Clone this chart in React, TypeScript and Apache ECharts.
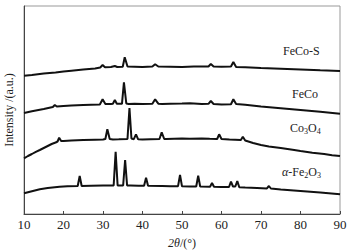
import React, { useEffect, useRef } from "react";
import * as echarts from "echarts";

const xTicks = [10, 20, 30, 40, 50, 60, 70, 80, 90];
const seriesNames = ["FeCo-S", "FeCo", "Co3O4", "α-Fe2O3"];

const fecoS: [number, number][] = [
  [10, 138.3], [12, 139], [15, 140.5], [18, 141.5], [20, 142.5], [22, 143.3], [25, 144.5], [28, 145.5],
  [29.3, 146.5], [29.9, 149], [30.5, 146.7], [32, 147], [33, 148], [33.6, 147], [35, 147.2],
  [35.5, 156.7], [36.2, 147.5], [38, 147.3], [40, 147], [42.5, 147.5], [43.2, 149.7], [44, 147.5],
  [47, 147.3], [50, 147], [53, 147.5], [56.7, 147.5], [57.3, 150], [58, 147.5], [60, 147.3],
  [62.4, 147.5], [63, 152], [63.7, 147], [66, 146.7], [70, 146], [75, 145.3], [80, 144.5], [85, 143.7], [90, 143]
];

const feco: [number, number][] = [
  [10, 101], [12, 102.8], [15, 105], [17.3, 107], [17.8, 109], [18.3, 107.5], [20, 108], [22, 108.5],
  [25, 109], [27, 109.3], [29.2, 109.5], [29.9, 114.7], [30.6, 110], [32, 110], [32.5, 110.3], [33, 114],
  [33.5, 110.3], [34.8, 110.2], [35.3, 131.7], [35.9, 110.5], [36.5, 110], [38, 110.2], [40, 110],
  [42.5, 110.2], [43.2, 114.7], [44, 110.3], [45, 110], [47, 110.3], [50, 110.5], [52, 110.7], [55, 110],
  [56.7, 110.2], [57.3, 113], [58, 110], [60, 109.5], [62.4, 109.7], [63, 114.7], [63.7, 110], [66, 109.3],
  [70, 107.5], [75, 105.8], [80, 104], [85, 102.2], [90, 100.3]
];

const co3o4: [number, number][] = [
  [10, 55.7], [11, 58], [12, 60], [13, 62.2], [14, 64], [15, 66], [16, 68], [17, 70], [18, 71.5],
  [18.5, 72.5], [18.9, 76.3], [19.4, 73], [20, 73], [22, 73.5], [25, 74], [28, 74.3], [30, 74.5],
  [30.6, 75], [31.1, 84.7], [31.7, 75], [32.5, 74.5], [34, 74.7], [36.2, 75], [36.7, 106], [37.2, 75.5],
  [37.8, 74.8], [38.35, 79.7], [38.9, 74.7], [40, 74.5], [42, 74.8], [44.3, 75], [44.86, 81.7], [45.5, 75],
  [46, 75], [48, 75.3], [50, 75.5], [52, 75.2], [55, 75.5], [57, 75.2], [58.9, 75], [59.4, 79.7],
  [60, 75], [62, 74.5], [64.9, 74], [65.4, 77.3], [66, 73.5], [68, 71], [70, 69], [72, 67.5], [75, 66],
  [78, 64.2], [80, 63], [83, 61.3], [86, 60], [88, 58.8], [90, 58]
];

const fe2o3: [number, number][] = [
  [10, 20.7], [12, 22.8], [14, 24.7], [16, 26], [19, 27.3], [21, 27.8], [23.6, 28], [24.1, 38], [24.6, 28],
  [27, 28.3], [30, 28.5], [32.7, 28.5], [33.2, 62.3], [33.7, 28.5], [34.5, 28.5], [35.1, 28.5], [35.6, 54],
  [36.1, 28.5], [37, 28.5], [39, 28.3], [40.4, 28.3], [40.9, 36.3], [41.4, 28.2], [45, 28], [47, 27.8],
  [49, 27.8], [49.5, 39], [50, 27.7], [52, 27.5], [53.6, 27.5], [54.1, 38.3], [54.6, 27.5], [57.1, 27.3],
  [57.6, 31], [58.1, 27.2], [60, 27], [61.9, 27], [62.4, 32.3], [62.9, 27.5], [63.5, 27.5], [64, 33],
  [64.5, 26.8], [66, 26.5], [69, 26], [71.5, 25.6], [72, 28], [72.5, 25.5], [75, 24.5], [80, 23],
  [85, 21.4], [90, 19.7]
];

const allData = [fecoS, feco, co3o4, fe2o3];

export default function App() {
  const ref = useRef<HTMLDivElement>(null);
  useEffect(() => {
    const chart = echarts.init(ref.current!, undefined, { renderer: "svg" });
    const font = "'Liberation Serif', 'Times New Roman', serif";
    const sub = { fontSize: 8, fontFamily: font, color: "#222", padding: [7, 0, 0, 0] };
    const base = { fontSize: 12, fontFamily: font, color: "#222" };
    const it = { fontSize: 12, fontFamily: font, color: "#222", fontStyle: "italic" };
    const labelStyle = (text: string, rich: any) => ({
      text, fontFamily: font, fontSize: 12, fill: "#222", rich,
    });
    chart.setOption({
      animation: false,
      backgroundColor: "#fff",
      grid: {
        left: 24, right: 14, top: 6, bottom: 36,
        show: true, borderColor: "#999", borderWidth: 1,
        outerBoundsMode: "none", containLabel: false,
      },
      xAxis: {
        type: "value",
        min: xTicks[0],
        max: xTicks[xTicks.length - 1],
        interval: 10,
        axisLine: { lineStyle: { color: "#444", width: 1 } },
        axisTick: { inside: true, length: 3, lineStyle: { color: "#444" } },
        axisLabel: { fontFamily: font, fontSize: 13, color: "#222", margin: 4 },
        splitLine: { show: false },
        name: "{i|2θ}{n|/(°)}",
        nameLocation: "middle",
        nameGap: 23,
        nameTextStyle: { rich: { i: it, n: base } },
      },
      yAxis: {
        type: "value",
        min: 0,
        max: 208,
        axisLine: { show: true, lineStyle: { color: "#444", width: 1 } },
        axisTick: { show: false },
        axisLabel: { show: false },
        splitLine: { show: false },
        name: "Intensity /(a.u.)",
        nameLocation: "middle",
        nameGap: 9,
        nameTextStyle: { fontFamily: font, fontSize: 12, color: "#222" },
      },
      series: allData.map((d, i) => ({
        name: seriesNames[i],
        type: "line",
        data: d,
        symbol: "none",
        lineStyle: { color: "#111", width: 2 },
      })),
      graphic: [
        { type: "text", left: 283, top: 45, style: labelStyle("FeCo-S", {}) },
        { type: "text", left: 292, top: 88, style: labelStyle("FeCo", {}) },
        { type: "text", left: 290, top: 122, style: labelStyle("Co{sub|3}O{sub|4}", { sub }) },
        { type: "text", left: 282, top: 166, style: labelStyle("{i|α}-Fe{sub|2}O{sub|3}", { sub, i: it }) },
      ],
    });
    return () => chart.dispose();
  }, []);
  return (
    <div
      ref={ref}
      style={{ width: 354, height: 250, position: "absolute", left: 0, top: 0 }}
    />
  );
}
